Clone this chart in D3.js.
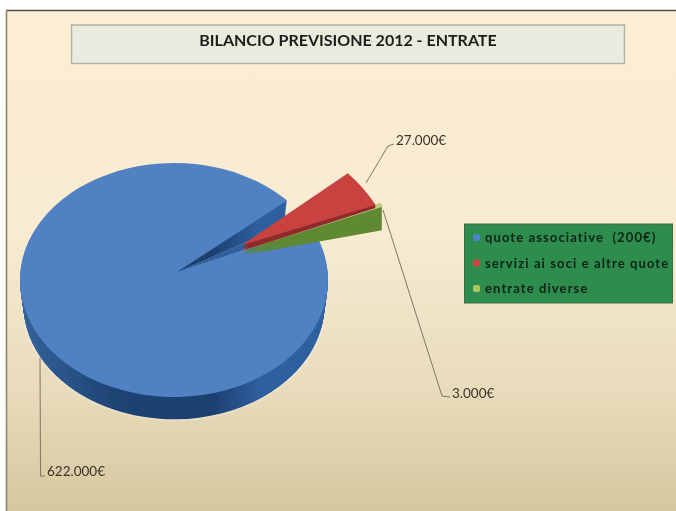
<!DOCTYPE html>
<html><head><meta charset="utf-8">
<script src="https://cdnjs.cloudflare.com/ajax/libs/d3/7.8.5/d3.min.js"></script>
<style>html,body{margin:0;padding:0;background:#fff}svg{display:block}</style></head>
<body><svg id="c" width="676" height="511"></svg>
<script>
const categories = ["quote associative  (200€)", "servizi ai soci e altre quote", "entrate diverse"];
const values = [622000, 27000, 3000];
const valueLabels = ["622.000€", "27.000€", "3.000€"];
const titleText = "BILANCIO PREVISIONE 2012 - ENTRATE";
const topColors = ["#4f81c3", "#c8423f", "#5f8a32"];
const sideColors = ["#2a5288", "#8e2c2a", "#5f8a32"];

const svg = d3.select("#c");
const defs = svg.append("defs");
const bg = defs.append("linearGradient").attr("id","bg").attr("x1",0).attr("x2",0).attr("y1",0).attr("y2",1);
[[0,"#fdeed4"],[0.45,"#f7ebd2"],[0.75,"#e9dcbc"],[1,"#d6c79f"]].forEach(s=>bg.append("stop").attr("offset",s[0]).attr("stop-color",s[1]));
const sg = defs.append("linearGradient").attr("id","side0").attr("x1",0).attr("x2",1).attr("y1",0).attr("y2",0);
[[0,"#33639c"],[0.3,"#1f4474"],[0.62,"#1c3f6e"],[0.78,"#2f5f9f"],[1,"#2f5f9f"]].forEach(s=>sg.append("stop").attr("offset",s[0]).attr("stop-color",s[1]));
const blur = defs.append("filter").attr("id","soft").attr("x","-5%").attr("y","-5%").attr("width","110%").attr("height","110%");
blur.append("feGaussianBlur").attr("stdDeviation",0.55);
const glow = defs.append("filter").attr("id","halo").attr("x","-10%").attr("y","-10%").attr("width","120%").attr("height","120%");
glow.append("feGaussianBlur").attr("stdDeviation",1.4);

const root = svg.append("g").attr("filter","url(#soft)");
root.append("rect").attr("x",7).attr("y",11).attr("width",669).attr("height",500).attr("fill","url(#bg)");
root.append("line").attr("x1",6).attr("x2",676).attr("y1",10.5).attr("y2",10.5).attr("stroke","#5a4a3c").attr("stroke-width",1.6);
root.append("line").attr("x1",6.5).attr("x2",6.5).attr("y1",10).attr("y2",511).attr("stroke","#93806a").attr("stroke-width",1.6);

// title
root.append("rect").attr("x",71.5).attr("y",25).attr("width",553).attr("height",38.5)
  .attr("fill","#e7ecde").attr("stroke","#b3b3a6").attr("stroke-width",1.5);
root.append("text").attr("x",348).attr("y",45.5).attr("text-anchor","middle")
  .attr("font-family","Lato").attr("font-weight",700).attr("font-size",16).attr("fill","#1d1d1d").text(titleText);

// pie geometry
const cx=174, cy=280, rx=154, ry=117, depth=24;
const sweepStart = 63.8*Math.PI/180;
const pieGen = d3.pie().sort(null).startAngle(sweepStart).endAngle(sweepStart+2*Math.PI);
const arcs = pieGen(values);
const sliceRx = [rx,185,rx], sliceRy = [ry,150,ry];
const offsets = [[0,0],[38,-5],[70,-22]];
const apexOff = [[3,-8],[30,-30],[-1,-8]];
const apexDrop = [0,6,5];
const sideDepth = [depth,3,depth];
const shrink = [0.14,0,0];
function wedge(i,drop,ad){
  const a=arcs[i], ox=cx+offsets[i][0], oy=cy+offsets[i][1]+drop;
  const ax=cx+offsets[i][0]+apexOff[i][0], ay=cy+offsets[i][1]+apexOff[i][1]+ad;
  const r1=sliceRx[i]-shrink[i]*drop, r2=sliceRy[i]-shrink[i]*drop*0.5;
  const pt=t=>[ox+r1*Math.sin(t), oy-r2*Math.cos(t)];
  const [x0,y0]=pt(a.startAngle), [x1,y1]=pt(a.endAngle);
  const large=(a.endAngle-a.startAngle)>Math.PI?1:0;
  return `M${ax},${ay}L${x0},${y0}A${r1},${r2} 0 ${large} 1 ${x1},${y1}Z`;
}
// the wall of the main slice closes the notch left by the exploded slices
function notchWall(){
  const a=arcs[0], ax=cx+apexOff[0][0], ay=cy+apexOff[0][1];
  const p=(t,d)=>[cx+rx*Math.sin(t), cy+d-ry*Math.cos(t)];
  return d3.line()([[ax,ay],p(a.endAngle,depth),p(a.startAngle,0)])+"Z";
}
// light halo beneath the main pie
root.append("path").attr("d",wedge(0,depth,0)).attr("fill","#fff").attr("opacity",.75).attr("filter","url(#halo)");
function drawSlice(i){
  const g=root.append("g");
  const n=sideDepth[i];
  d3.range(n,0,-1).forEach(k=>{
    g.append("path").attr("d",wedge(i,k,apexDrop[i]*k/n))
      .attr("fill",i===0?"url(#side0)":sideColors[i]);
  });
  if(i===0) g.append("path").attr("d",notchWall()).attr("fill","#2f5f9f");
  g.append("path").attr("d",wedge(i,0,0)).attr("fill",topColors[i]);
  if(i===2) g.append("path").attr("d",wedge(i,0,0)).attr("fill","#c6cc84").attr("stroke","#c6cc84").attr("stroke-width",1).attr("stroke-linejoin","round");
}
drawSlice(0); drawSlice(2); drawSlice(1);

// leader lines, anchored on the labels
const labelPos=[[47,476],[396,145],[452,398]];
const leaders=[
  [[40,358],[40.5,476],[45,476]],
  [[366,183],[388,146],[394,144]],
  [[383,210],[442,396],[450,397]]
];
const line=d3.line();
leaders.forEach(p=>root.append("path").attr("d",line(p)).attr("fill","none").attr("stroke","#7d7565").attr("stroke-width",1));
valueLabels.forEach((t,i)=>root.append("text").attr("x",labelPos[i][0]).attr("y",labelPos[i][1])
  .attr("font-family","Lato").attr("font-size",13.5).attr("fill","#3a3428").text(t));

// legend
root.append("rect").attr("x",464.5).attr("y",224).attr("width",208).attr("height",79)
  .attr("fill","#2f8c4e").attr("stroke","#3d6b48").attr("stroke-width",1);
const legendY=d3.scalePoint().domain(categories).range([238,289]);
categories.forEach((c,i)=>{
  root.append("rect").attr("x",473).attr("y",legendY(c)-4).attr("width",7).attr("height",7).attr("rx",2).attr("fill",["#4f86c8","#cc4444","#a9c75f"][i]);
  root.append("text").attr("x",485).attr("y",legendY(c)+4).attr("font-family","Lato").attr("font-weight",700)
    .attr("font-size",13).attr("letter-spacing",1.1).attr("fill","#0d2416").attr("xml:space","preserve").style("white-space","pre").text(c);
});
</script></body></html>
